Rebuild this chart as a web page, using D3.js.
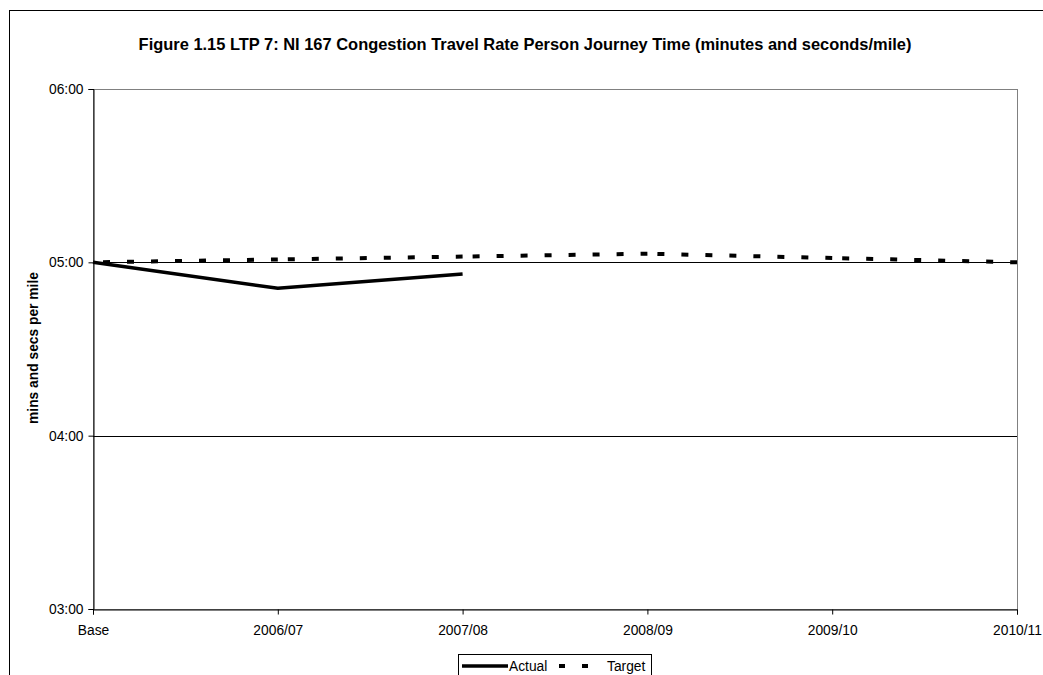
<!DOCTYPE html>
<html><head><meta charset="utf-8">
<script src="https://cdn.jsdelivr.net/npm/d3@7"></script>
<style>
html,body{margin:0;padding:0;background:#fff;overflow:hidden;}
text{font-family:"Liberation Sans",Arial,sans-serif;fill:#000;}
</style></head>
<body>
<svg id="chart" width="1043" height="675"></svg>
<script>
const categories = ["Base","2006/07","2007/08","2008/09","2009/10","2010/11"];
// values in seconds per mile
const actualValues = [300, 291, 296];
const targetValues = [300, 301, 302, 303, 301.5, 300];
const yTickValues = [180, 240, 300, 360];
const yTickLabels = ["03:00","04:00","05:00","06:00"];
const titleText = "Figure 1.15 LTP 7: NI 167 Congestion Travel Rate Person Journey Time (minutes and seconds/mile)";
const yAxisTitle = "mins and secs per mile";
const seriesNames = ["Actual","Target"];

const svg = d3.select("#chart");
const W = 1043, H = 675;
const m = {left:93, right:1043-1017, top:89, bottom:675-609};
const FS = "13.8px";

// outer chart border
svg.append("rect").attr("x",9.5).attr("y",10.5).attr("width",1050).attr("height",700)
  .attr("fill","none").attr("stroke","#000").attr("stroke-width",1);

const x = d3.scalePoint().domain(categories).range([m.left, W-m.right]);
const y = d3.scaleLinear().domain([180,360]).range([H-m.bottom, m.top]);

// plot border (grey)
svg.append("rect").attr("x",m.left+0.5).attr("y",m.top+0.5)
  .attr("width",(W-m.right)-m.left).attr("height",(H-m.bottom)-m.top)
  .attr("fill","none").attr("stroke","#808080").attr("stroke-width",1);

// gridlines
svg.append("g").selectAll("line").data(yTickValues.filter(v=>v>180 && v<360)).join("line")
  .attr("x1",m.left).attr("x2",W-m.right)
  .attr("y1",d=>Math.round(y(d))+0.5).attr("y2",d=>Math.round(y(d))+0.5)
  .attr("stroke","#000").attr("stroke-width",1);

// y axis
const yAxis = d3.axisLeft(y).tickValues(yTickValues)
  .tickFormat((d,i)=>yTickLabels[i]).tickSize(5).tickPadding(5);
const gy = svg.append("g").attr("transform",`translate(${m.left+0.5},0)`).call(yAxis);
gy.select(".domain").attr("stroke","#000");
gy.selectAll(".tick line").attr("stroke","#000");
gy.selectAll(".tick text").style("font-size",FS).style("font-family","Liberation Sans, Arial, sans-serif");

// x axis
const xAxis = d3.axisBottom(x).tickSize(5).tickPadding(11);
const gx = svg.append("g").attr("transform",`translate(0,${H-m.bottom+0.5})`).call(xAxis);
gx.select(".domain").attr("stroke","#000");
gx.selectAll(".tick line").attr("stroke","#000");
gx.selectAll(".tick text").style("font-size",FS).style("font-family","Liberation Sans, Arial, sans-serif");

// target: each segment dashed separately (as in Excel)
const tgtPts = targetValues.map((v,i)=>[x(categories[i]), y(v)]);
for(let i=0;i<tgtPts.length-1;i++){
  svg.append("line").attr("x1",tgtPts[i][0]).attr("y1",tgtPts[i][1])
    .attr("x2",tgtPts[i+1][0]).attr("y2",tgtPts[i+1][1])
    .attr("stroke","#000").attr("stroke-width",4).attr("stroke-dasharray","7 17")
    .attr("stroke-dashoffset",-10);
}

// actual
const line = d3.line().x((d,i)=>x(categories[i])).y(d=>y(d));
svg.append("path").datum(actualValues).attr("d",line)
  .attr("fill","none").attr("stroke","#000").attr("stroke-width",3.5);

// title
const t = svg.append("text").attr("x",525).attr("y",50).attr("text-anchor","middle")
  .style("font-weight","bold").style("font-size","14px").text(titleText);
const tw = t.node().getComputedTextLength();
t.style("font-size",(14*774/tw).toFixed(2)+"px");

// y title
svg.append("text").attr("transform","translate(38,348) rotate(-90)")
  .attr("text-anchor","middle").style("font-weight","bold").style("font-size",FS).text(yAxisTitle);

// legend
const lg = svg.append("g");
lg.append("rect").attr("x",458.5).attr("y",654.5).attr("width",193).attr("height",26)
  .attr("fill","#fff").attr("stroke","#000");
lg.append("line").attr("x1",462).attr("x2",508).attr("y1",666).attr("y2",666)
  .attr("stroke","#000").attr("stroke-width",3.5);
lg.append("text").attr("x",509).attr("y",671).style("font-size",FS).text(seriesNames[0]);
lg.append("line").attr("x1",559).attr("x2",589).attr("y1",666).attr("y2",666)
  .attr("stroke","#000").attr("stroke-width",4).attr("stroke-dasharray","6 17");
lg.append("text").attr("x",607).attr("y",671).style("font-size",FS).text(seriesNames[1]);
</script>
</body></html>
